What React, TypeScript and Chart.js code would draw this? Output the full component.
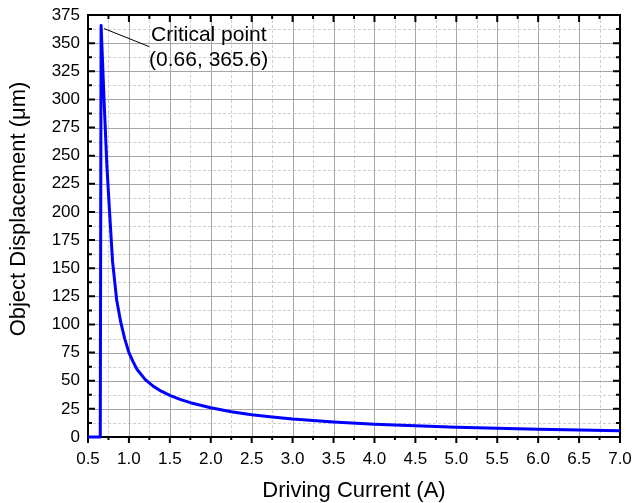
import React, { useEffect, useRef } from "react";
import { Chart, registerables } from "chart.js";

Chart.register(...registerables);

// ---- data ----
const currents = [
  0.5, 0.65, 0.66, 0.7, 0.73, 0.76, 0.8, 0.85, 0.9, 0.95, 1.0, 1.05, 1.1, 1.2, 1.3, 1.4, 1.5,
  1.625, 1.75, 2.0, 2.25, 2.5, 2.75, 3.0, 3.5, 4.0, 4.5, 5.0, 5.5, 6.0, 6.5, 7.0,
];
const displacements = [
  0, 0, 365.6, 293, 242, 204, 156, 122, 102, 87, 75, 67, 60, 51, 45, 40.5, 37,
  33.5, 30.5, 26, 22.5, 19.8, 17.8, 16, 13.4, 11.3, 9.9, 8.7, 7.7, 6.9, 6.2, 5.6,
];
const xTicksMajor = [0.5, 1.0, 1.5, 2.0, 2.5, 3.0, 3.5, 4.0, 4.5, 5.0, 5.5, 6.0, 6.5, 7.0];
const yTicksMajor = [0, 25, 50, 75, 100, 125, 150, 175, 200, 225, 250, 275, 300, 325, 350, 375];
const criticalX = 0.66;
const criticalY = 365.6;
const annotationLines = ["Critical point", "(0.66, 365.6)"];
const xTitle = "Driving Current (A)";
const yTitle = "Object Displacement (\u03bcm)";

const FONT = "'Liberation Sans', Arial, Helvetica, sans-serif";

const framePlugin = {
  id: "framePlugin",
  beforeDatasetsDraw(chart: any) {
    const { ctx, chartArea: a, scales } = chart;
    const xs = scales.x;
    const ys = scales.y;
    ctx.save();
    // minor grid (dashed)
    ctx.strokeStyle = "#cfcfcf";
    ctx.lineWidth = 1;
    ctx.setLineDash([3, 2]);
    for (let i = 0; i < xTicksMajor.length - 1; i++) {
      const v = (xTicksMajor[i] + xTicksMajor[i + 1]) / 2;
      const p = Math.round(xs.getPixelForValue(v)) + 0.5;
      ctx.beginPath();
      ctx.moveTo(p, a.top);
      ctx.lineTo(p, a.bottom);
      ctx.stroke();
    }
    for (let i = 0; i < yTicksMajor.length - 1; i++) {
      const v = (yTicksMajor[i] + yTicksMajor[i + 1]) / 2;
      const p = Math.round(ys.getPixelForValue(v)) + 0.5;
      ctx.beginPath();
      ctx.moveTo(a.left, p);
      ctx.lineTo(a.right, p);
      ctx.stroke();
    }
    // major grid
    ctx.setLineDash([]);
    ctx.strokeStyle = "#a6a6a6";
    for (const v of xTicksMajor) {
      const p = Math.round(xs.getPixelForValue(v)) + 0.5;
      ctx.beginPath();
      ctx.moveTo(p, a.top);
      ctx.lineTo(p, a.bottom);
      ctx.stroke();
    }
    for (const v of yTicksMajor) {
      const p = Math.round(ys.getPixelForValue(v)) + 0.5;
      ctx.beginPath();
      ctx.moveTo(a.left, p);
      ctx.lineTo(a.right, p);
      ctx.stroke();
    }
    // ticks
    ctx.strokeStyle = "#000";
    ctx.lineWidth = 2;
    const majorLen = 7;
    const minorLen = 4;
    const xVals: [number, number][] = [];
    for (let i = 0; i < xTicksMajor.length; i++) {
      xVals.push([xTicksMajor[i], majorLen]);
      if (i < xTicksMajor.length - 1) xVals.push([(xTicksMajor[i] + xTicksMajor[i + 1]) / 2, minorLen]);
    }
    const yVals: [number, number][] = [];
    for (let i = 0; i < yTicksMajor.length; i++) {
      yVals.push([yTicksMajor[i], majorLen]);
      if (i < yTicksMajor.length - 1) yVals.push([(yTicksMajor[i] + yTicksMajor[i + 1]) / 2, minorLen]);
    }
    for (const [v, len] of xVals) {
      const p = xs.getPixelForValue(v);
      ctx.beginPath();
      ctx.moveTo(p, a.bottom);
      ctx.lineTo(p, a.bottom + len - 1);
      ctx.moveTo(p, a.top);
      ctx.lineTo(p, a.top + len);
      ctx.stroke();
    }
    for (const [v, len] of yVals) {
      const p = ys.getPixelForValue(v);
      ctx.beginPath();
      ctx.moveTo(a.left, p);
      ctx.lineTo(a.left + len, p);
      ctx.moveTo(a.right, p);
      ctx.lineTo(a.right - len, p);
      ctx.stroke();
    }
    // frame
    ctx.lineWidth = 2;
    ctx.strokeRect(a.left, a.top, a.right - a.left, a.bottom - a.top);
    ctx.restore();
  },
  afterDraw(chart: any) {
    const { ctx, scales } = chart;
    const px = scales.x.getPixelForValue(criticalX);
    const py = scales.y.getPixelForValue(criticalY);
    ctx.save();
    ctx.strokeStyle = "#000";
    ctx.lineWidth = 1;
    ctx.beginPath();
    ctx.moveTo(px + 3, py + 3);
    ctx.lineTo(px + 48, py + 21);
    ctx.stroke();
    ctx.fillStyle = "#000";
    ctx.font = `21px ${FONT}`;
    ctx.textBaseline = "middle";
    ctx.textAlign = "left";
    ctx.fillText(annotationLines[0], px + 50, py + 10);
    ctx.fillText(annotationLines[1], px + 48, py + 35);
    // y-axis title
    ctx.translate(19, 209);
    ctx.rotate(-Math.PI / 2);
    ctx.font = `22px ${FONT}`;
    ctx.textAlign = "center";
    ctx.fillText(yTitle, 0, 0);
    ctx.restore();
  },
};

export default function App() {
  const ref = useRef<HTMLCanvasElement | null>(null);
  useEffect(() => {
    if (!ref.current) return;
    Chart.defaults.font.family = FONT;
    const chart = new Chart(ref.current, {
      type: "line",
      data: {
        datasets: [
          {
            data: currents.map((x, i) => ({ x, y: displacements[i] })),
            borderColor: "#0000ff",
            backgroundColor: "#0000ff",
            borderWidth: 3,
            pointRadius: 0,
            tension: 0,
            clip: false as any,
            borderJoinStyle: "round",
          },
        ],
      },
      options: {
        responsive: false,
        animation: false,
        events: [],
        layout: { padding: { top: 15, right: 12, left: 0, bottom: 0 } },
        plugins: { legend: { display: false }, tooltip: { enabled: false } },
        scales: {
          x: {
            type: "linear",
            min: 0.5,
            max: 7,
            grid: { display: false },
            border: { display: false },
            ticks: {
              stepSize: 0.5,
              color: "#000",
              font: { size: 17 },
              padding: 4,
              maxRotation: 0,
              autoSkip: false,
              callback: (v: any) => Number(v).toFixed(1),
            },
            title: {
              display: true,
              text: xTitle,
              color: "#000",
              font: { size: 22 },
              padding: { top: 0, bottom: -1 },
            },
            afterFit: (s: any) => {
              s.height = 66;
              s.paddingLeft = 0;
              s.paddingRight = 0;
            },
          },
          y: {
            type: "linear",
            min: 0,
            max: 375,
            grid: { display: false, drawTicks: false },
            border: { display: false },
            ticks: {
              stepSize: 25,
              color: "#000",
              font: { size: 17 },
              padding: 8,
              autoSkip: false,
            },
            title: { display: false },
            afterFit: (s: any) => {
              s.width = 88;
              s.paddingTop = 0;
              s.paddingBottom = 0;
            },
          },
        },
      },
      plugins: [framePlugin],
    });
    return () => chart.destroy();
  }, []);
  return (
    <canvas
      ref={ref}
      width={632}
      height={503}
      style={{ position: "fixed", left: 0, top: 0, width: 632, height: 503, background: "#fff" }}
    />
  );
}
